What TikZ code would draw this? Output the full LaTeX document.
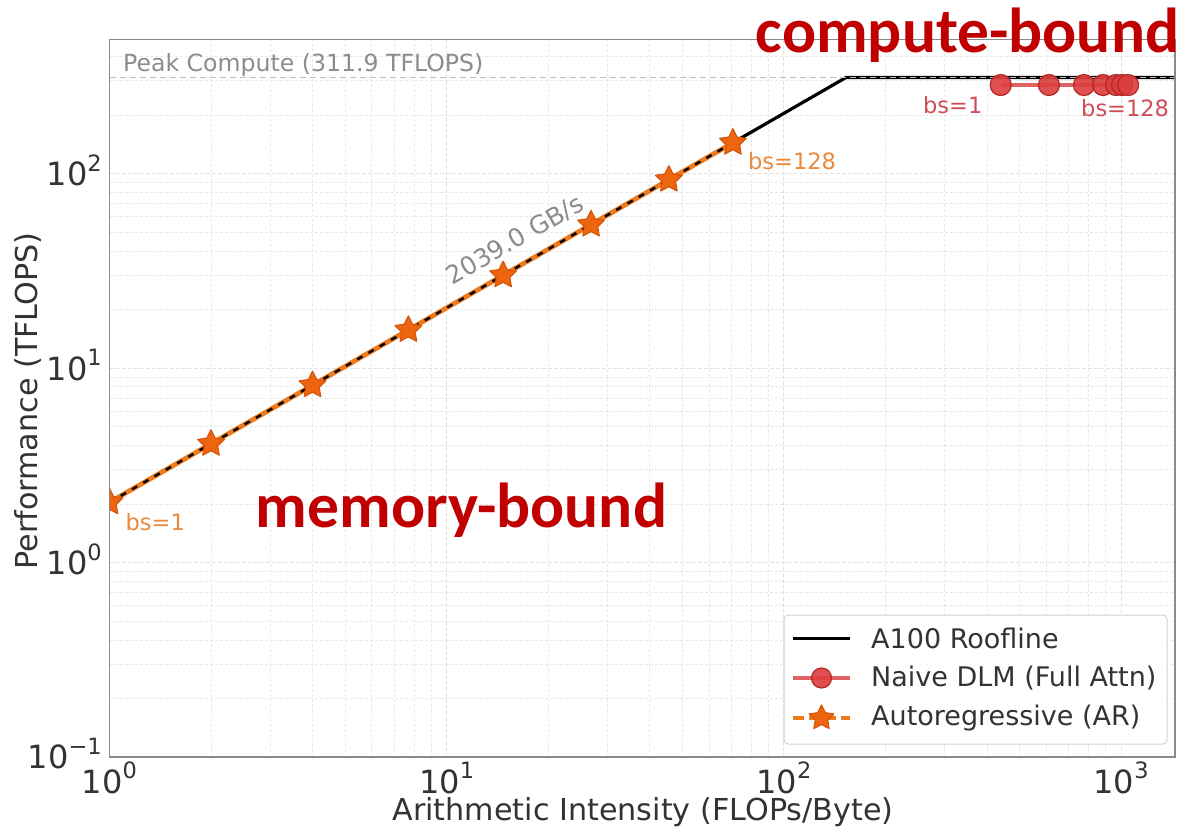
\documentclass[tikz,border=0pt]{standalone}
\usepackage{fontspec}
\setmainfont{DejaVu Sans}
\newfontfamily\boundfont{Carlito}
\usetikzlibrary{shapes.geometric,calc}

\definecolor{tickgray}{HTML}{333333}
\definecolor{spinegray}{HTML}{8A8A8A}
\definecolor{gridgray}{HTML}{E2E2E2}
\definecolor{peakgray}{HTML}{8C8C8C}
\definecolor{peakline}{HTML}{BDBDBD}
\definecolor{arline}{HTML}{EE7A1E}
\definecolor{arstar}{HTML}{EE6510}
\definecolor{arstaredge}{HTML}{D8560A}
\definecolor{arlabel}{HTML}{E98A3E}
\definecolor{dlmfill}{HTML}{DC3D3D}
\definecolor{dlmedge}{HTML}{B42828}
\definecolor{dlmline}{HTML}{E06262}
\definecolor{dlmlabel}{HTML}{CF4E58}
\definecolor{boundred}{HTML}{C00000}

% log-log axis mapping (page units are points, y grows downwards)
\def\X#1{(109.5+337.2*log10(#1))}
\def\Y#1{(757-194.5*(log10(#1)+1))}
\def\xl{109.5}\def\xr{1175}\def\yt{39.3}\def\yb{757}

\newcommand\tenpow[1]{10\raisebox{0.45em}{\fontsize{22.5}{22.5}\selectfont #1}}

\tikzset{
  gridmajor/.style={draw=gridgray, line width=1pt, dash pattern=on 4pt off 2pt},
  gridminor/.style={draw=gridgray!80, line width=0.8pt, dash pattern=on 3pt off 2pt},
  ticklabel/.style={font=\fontsize{32}{32}\selectfont, text=tickgray, inner sep=0pt},
  axislabel/.style={font=\fontsize{30.2}{30.2}\selectfont, text=tickgray, inner sep=0pt},
  bslabel/.style={font=\fontsize{22.5}{22.5}\selectfont, inner sep=0pt},
  legtext/.style={font=\fontsize{27}{27}\selectfont, text=tickgray, inner sep=0pt, anchor=west},
  arstarmark/.style={star, star points=5, star point ratio=2.0, minimum size=28pt, inner sep=0pt,
    fill=arstar, draw=arstaredge, line width=1.2pt, line join=round},
  dlmmark/.style={circle, minimum size=21pt, inner sep=0pt, fill=dlmfill, fill opacity=0.9,
    draw=dlmedge, line width=1.2pt},
  boundtext/.style={font=\boundfont\bfseries\fontsize{63.5}{63.5}\selectfont, text=boundred, inner sep=0pt},
}

\begin{document}
\begin{tikzpicture}[x=1pt,y=-1pt]
\useasboundingbox (0,0) rectangle (1183,829);
\fill[white] (0,0) rectangle (1183,829);

% grid
\begin{scope}
  \clip (\xl,\yt) rectangle (\xr,\yb);
  \foreach \k in {0,1,2,3} {
    \foreach \m in {2,...,9} {
      \draw[gridminor] ({\X{\m*10^\k}},\yt) -- ({\X{\m*10^\k}},\yb);
    }
    \draw[gridmajor] ({\X{10^\k}},\yt) -- ({\X{10^\k}},\yb);
  }
  \foreach \k in {-1,0,1,2} {
    \foreach \m in {2,...,9} {
      \draw[gridminor] (\xl,{\Y{\m*10^(\k)}}) -- (\xr,{\Y{\m*10^(\k)}});
    }
    \draw[gridmajor] (\xl,{\Y{10^(\k)}}) -- (\xr,{\Y{10^(\k)}});
  }
\end{scope}

% roofline and curves
\coordinate (roofstart) at ({\X{1}},{\Y{2.039}});
\coordinate (ridge) at ({\X{152.97}},{\Y{311.9}});
\coordinate (roofend) at (\xr,{\Y{311.9}});
\coordinate (peakstart) at (\xl,{\Y{311.9}});

\foreach \n/\a in {1/1,2/2,3/4,4/7.7,5/14.7,6/26.8,7/45.6,8/70.6}
  \coordinate (ar\n) at ({\X{\a}},{\Y{2.039*\a}});
\foreach \n/\a in {1/439.5,2/611,3/776,4/884,5/966,6/1007,7/1049}
  \coordinate (dlm\n) at ({\X{\a}},{\Y{285}});

\begin{scope}
  \clip (\xl,\yt) rectangle (\xr,\yb);
  \draw[black, line width=3.2pt] (roofstart) -- (ridge) -- (roofend);
  \draw[peakline, line width=1.5pt, dash pattern=on 6pt off 4pt] (peakstart) -- (roofend);
  \draw[arline, line width=4.8pt] (ar1) -- (ar2) -- (ar3) -- (ar4) -- (ar5) -- (ar6) -- (ar7) -- (ar8);
  \draw[black, line width=2.4pt, dash pattern=on 6pt off 7pt] (ar1) -- (ar8);
  \foreach \n in {1,...,8} \node[arstarmark] (s\n) at (ar\n) {};
  \draw[dlmline, line width=4pt] (dlm1) -- (dlm7);
  \foreach \n in {1,...,7} \node[dlmmark] (c\n) at (dlm\n) {};
\end{scope}

% axes frame
\draw[spinegray, line width=1.5pt] (\xl,\yt) rectangle (\xr,\yb);

% annotations
\node[anchor=base west, font=\fontsize{23.6}{23.6}\selectfont, text=peakgray, inner sep=0pt] (peaklbl) at (123,72) {Peak Compute (311.9 TFLOPS)};
\node[rotate=30, font=\fontsize{25}{25}\selectfont, text=peakgray, inner sep=0pt] (bwlbl) at (515,240) {2039.0 GB/s};
\node[bslabel, text=arlabel, anchor=base west] (arbs1) at (125.5,530) {bs=1};
\node[bslabel, text=arlabel, anchor=base west] (arbs128) at (748,170) {bs=128};
\node[bslabel, text=dlmlabel, anchor=base west] (dlmbs1) at (923,114) {bs=1};
\node[bslabel, text=dlmlabel, anchor=base west] (dlmbs128) at (1081,117) {bs=128};

% tick labels
\foreach \k in {0,1,2,3}
  \node[ticklabel, anchor=north] at ({\X{10^\k}},762) {\tenpow{\k}};
\foreach \k/\t in {-1/{\char"2212 1},0/0,1/1,2/2}
  \node[ticklabel, anchor=base east] at (102,{\Y{10^(\k)}+12}) {\tenpow{\t}};

\node[axislabel] (xlabel) at (643,812) {Arithmetic Intensity (FLOPs/Byte)};
\node[axislabel, rotate=90] (ylabel) at (28,401) {Performance (TFLOPS)};

% legend
\draw[rounded corners=4pt, draw=gray!35, fill=white, fill opacity=0.85, line width=1pt] (784,615) rectangle (1167,744);
\coordinate (l1a) at (793,638); \coordinate (l1b) at (850,638);
\coordinate (l2a) at (793,678); \coordinate (l2b) at (850,678);
\coordinate (l3a) at (793,718); \coordinate (l3b) at (850,718);
\draw[black, line width=3pt] (l1a) -- (l1b);
\draw[dlmline, line width=3.5pt] (l2a) -- (l2b);
\node[dlmmark, minimum size=20pt] (legc) at ($(l2a)!0.5!(l2b)$) {};
\draw[arline, line width=3.5pt, dash pattern=on 11pt off 5pt] (l3a) -- (l3b);
\node[arstarmark, minimum size=26pt] (legs) at ($(l3a)!0.5!(l3b)$) {};
\node[legtext] (leg1) at (871,638) {A100 Roofline};
\node[legtext] (leg2) at (871,678) {Naive DLM (Full Attn)};
\node[legtext] (leg3) at (871,718) {Autoregressive (AR)};

% region annotations
\node[boundtext, anchor=base] (cb) at (967.5,53) {compute-bound};
\node[boundtext, anchor=base] (mb) at (461.5,527) {memory-bound};
\end{tikzpicture}
\end{document}
